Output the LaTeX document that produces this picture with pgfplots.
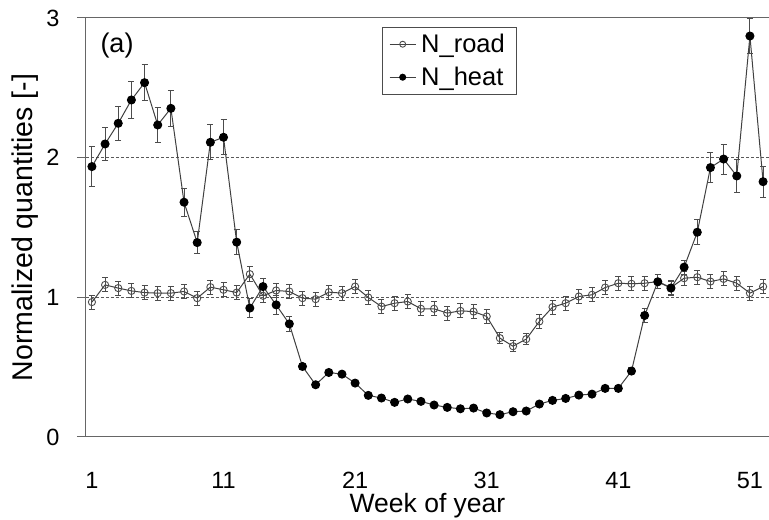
\documentclass[border=0pt]{standalone}
\usepackage{pgfplots}
\pgfplotsset{compat=1.18}
\usepackage{pgfplotstable}
\usepackage{fontspec}
\setmainfont{Liberation Sans}

\pgfplotstableread{
x y e
1 1.936 0.145
2 2.098 0.12
3 2.246 0.12
4 2.413 0.13
5 2.537 0.13
6 2.234 0.125
7 2.353 0.13
8 1.681 0.10
9 1.392 0.08
10 2.11 0.125
11 2.146 0.125
12 1.395 0.09
13 0.923 0.07
14 1.077 0.06
15 0.946 0.07
16 0.81 0.055
17 0.505 0.02
18 0.374 0.02
19 0.462 0.02
20 0.45 0.02
21 0.386 0.02
22 0.298 0.015
23 0.279 0.015
24 0.248 0.015
25 0.272 0.015
26 0.255 0.015
27 0.229 0.015
28 0.212 0.015
29 0.202 0.015
30 0.207 0.015
31 0.172 0.015
32 0.16 0.015
33 0.181 0.015
34 0.186 0.015
35 0.236 0.015
36 0.262 0.015
37 0.276 0.015
38 0.30 0.015
39 0.307 0.015
40 0.348 0.02
41 0.348 0.02
42 0.472 0.025
43 0.87 0.05
44 1.111 0.05
45 1.066 0.05
46 1.216 0.05
47 1.466 0.09
48 1.929 0.105
49 1.99 0.107
50 1.869 0.12
51 2.871 0.125
52 1.828 0.11
}\heat

\pgfplotstableread{
x y e
1 0.966 0.05
2 1.089 0.05
3 1.066 0.05
4 1.046 0.05
5 1.034 0.05
6 1.03 0.05
7 1.03 0.05
8 1.042 0.05
9 0.994 0.05
10 1.073 0.05
11 1.054 0.05
12 1.034 0.05
13 1.166 0.055
14 1.011 0.05
15 1.049 0.05
16 1.042 0.05
17 0.994 0.05
18 0.987 0.05
19 1.037 0.05
20 1.03 0.05
21 1.077 0.05
22 0.999 0.05
23 0.934 0.05
24 0.958 0.05
25 0.97 0.05
26 0.918 0.05
27 0.918 0.05
28 0.887 0.05
29 0.903 0.05
30 0.898 0.05
31 0.863 0.05
32 0.708 0.04
33 0.65 0.04
34 0.701 0.04
35 0.827 0.05
36 0.93 0.05
37 0.958 0.05
38 1.006 0.05
39 1.018 0.05
40 1.07 0.05
41 1.101 0.05
42 1.097 0.05
43 1.101 0.05
44 1.113 0.05
45 1.07 0.05
46 1.137 0.05
47 1.144 0.05
48 1.113 0.05
49 1.132 0.05
50 1.101 0.05
51 1.03 0.05
52 1.077 0.05
}\road

\begin{document}
\begin{tikzpicture}
\begin{axis}[
  name=ax,
  scale only axis,
  width=683pt, height=419pt,
  xmin=0.55, xmax=52.45,
  ymin=0, ymax=3,
  clip=false,
  axis x line*=bottom,
  axis y line*=left,
  axis line style={black!60, line width=1pt},
  xtick={1,11,21,31,41,51},
  ytick={0,1,2,3},
  xtick style={draw=none},
  ytick style={black!60, line width=1pt},
  tick align=outside,
  major tick length=9pt,
  /pgf/number format/assume math mode=true,
  tick label style={font=\fontsize{23.5}{28}\selectfont},
  xticklabel style={yshift=-23pt},
  yticklabel style={xshift=-14pt},
  xlabel={\fontsize{26.5}{30}\selectfont Week of year},
  ylabel={\fontsize{28.5}{30}\selectfont Normalized quantities [-]},
  every axis x label/.style={at={(rel axis cs:0.5,0)}, yshift=-76pt, anchor=base},
  every axis y label/.style={at={(rel axis cs:0,0.5)}, xshift=-53pt, rotate=90, anchor=base},
  legend style={at={(rel axis cs:0.433,0.979)}, anchor=north west, draw=black!70, line width=0.9pt,
    font=\fontsize{25.5}{30}\selectfont, inner xsep=7pt, inner ysep=5pt, row sep=9pt,
    cells={anchor=west}, nodes={inner xsep=5pt}},
  legend cell align=left,
  legend image code/.code={\draw[#1, mark repeat=2, mark phase=2, mark size=3pt] plot coordinates {(0pt,0pt) (13pt,0pt) (26pt,0pt)};},
]
\addplot[forget plot, black!65, dashed, line width=0.8pt, dash pattern=on 3pt off 2pt] coordinates {(0.55,1) (52.45,1)};
\addplot[forget plot, black!65, dashed, line width=0.8pt, dash pattern=on 3pt off 2pt] coordinates {(0.55,2) (52.45,2)};
\addplot[forget plot, black!60, line width=1pt] coordinates {(0.55,3) (52.45,3)};

\addplot[black!75, line width=1pt, mark=o, mark size=3.6pt, mark options={fill=white, draw=black!70, line width=0.9pt},
  error bars/.cd, y dir=both, y explicit, error bar style={line width=0.9pt, black!70},
  error mark options={rotate=90, mark size=3pt, line width=0.9pt, black!70}]
  table[x=x, y=y, y error=e] {\road};
\addlegendentry{N\_road}

\addplot[black!75, line width=1pt, mark=*, mark size=4pt, mark options={fill=black, draw=black},
  error bars/.cd, y dir=both, y explicit, error bar style={line width=0.9pt, black!70},
  error mark options={rotate=90, mark size=3pt, line width=0.9pt, black!70}]
  table[x=x, y=y, y error=e] {\heat};
\addlegendentry{N\_heat}

\node[anchor=center, font=\fontsize{27}{30}\selectfont] at (rel axis cs:0.0454,0.935) {(a)};
\end{axis}
\pgfresetboundingbox
\path[use as bounding box] ([xshift=-86pt,yshift=-83pt]ax.south west) rectangle ([yshift=18pt]ax.north east);
\end{tikzpicture}
\end{document}
